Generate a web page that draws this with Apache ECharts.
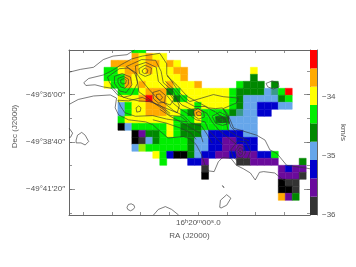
<!DOCTYPE html>
<html><head><meta charset="utf-8">
<style>html,body{margin:0;padding:0;background:#fff}#c{width:356px;height:267px}</style>
<script src="https://cdn.jsdelivr.net/npm/echarts@6/dist/echarts.min.js"></script>
</head><body><div id="c"></div>
<script>
// Map axes are in map-pixel units (one velocity cell = 1 unit); columns run east to west, rows north to south.
var raTicks=[-2.97,1.15,5.27,9.4,13.53,17.64,21.76,25.9];
var raLabelTicks=[13.53];
var decTicks=[3.5,6.88,10.26,13.64,17.02,20.4,23.78];
var decLabelTicks=[6.88,13.64,20.4];
var decLabels=['\u221249\u00b036\u203200\u2033','\u221249\u00b038\u203240\u2033','\u221249\u00b041\u203220\u2033'];
var velTicks=[-34,-35,-36];
var binEdges=[-36,-35.69,-35.38,-35.07,-34.76,-34.45,-34.14,-33.83,-33.52,-33.21];
var binColors=['#333333','#6a0a9c','#0000cc','#66a6ea','#008800','#00ee00','#ffff00','#ffaa00','#ff0000'];
// velocity (km/s) read for each colour letter in the map
var velocityOf={k:-36.2,d:-35.85,p:-35.5,b:-35.2,l:-34.9,t:-34.78,g:-34.6,G:-34.3,L:-34.16,y:-34,o:-33.7,r:-33.35};
var extraColors={k:'#000000',t:'#3a9a8a',L:'#99ee00'};
var velocityRows=[
'....GG',
'....oyoyy',
'.ooooyooyoy',
'GGyooyoyyyoo.........y',
'GGGoyyyyyyyo.........g',
'yGGoyoyyyoyyyo.....Gggg.g',
'..GGGyooogGyyyyyyyGggggltGr',
'..yyyorooygGyyyyyyGglllllgG',
'..lGyyoooyyyyGyyyyGgllbbbll',
'..lGyyoooyyGgoGGGGgtllbb',
'..GyyyyyyyGGGyGGggllll',
'..klGGGGGyGgggGGGGllll',
'....kpggGyGggglbbbbbll',
'....kdlgGGGGgllbbppbbb',
'....lLGGGGGGgllbbpppbb',
'.......yGbkkglbbppbpppbbG',
'........G...bbp....ddpppp...g',
'..............d..........pbpp',
'..............k..........pppd',
'.........................kdd',
'.........................kkd',
'.........................opg'
];
var contourLeftBody=[[-2.9,5.2],[-2.2,4.6],[-0.1,4.1],[1.3,3.4],[2.5,2.6],[4,1.8],[5.5,1.4],[8,1],[9,2.5],[9,4],[10.9,6.7],[12.3,7.9],[15.7,6.9],[17.1,7.2],[19.3,7.4],[19,8.1],[17.8,8.6],[17.1,8.9],[17.8,9.8],[18.6,11.7],[21.9,12.7],[23.1,13.4],[23.8,14.8],[24.8,15.3],[26.2,17],[29,17.4],[29.55,17.5]];
var contourLeftBodyLow=[[-2.9,5.2],[-2.6,5.6],[-1.3,5.5],[-0.1,5.8],[1.1,6],[2,7],[3.5,7.5],[5,7.8],[6.5,7.9],[8,8.4],[9.5,9.6]];
var contourTopLeft=[[-5,3.7],[-3.4,3.3],[-1.5,3],[-0.1,1.9],[1.3,1.4],[3.3,1.2],[4.4,0.5]];
var contourLowerLeft=[[-5,8.3],[-3.7,7.6],[-1.5,7.1],[0.9,6.95],[1.8,7.4],[1.6,8.8],[2.1,9.8],[3.5,10.5],[6,10.8],[7,11.2],[8,12.1],[9.2,13.1],[11.4,12.9],[12.3,13.2],[13.2,14],[14,15.5],[14.5,17],[15,17.8],[15.8,17.9],[16.4,16.5],[17,15.9],[18.2,16],[19,17],[20,17.5],[21,18.1],[21.7,19.1],[22.3,18],[22.9,17.9],[24.5,18.1],[25.7,19.1],[26.7,19.6]];
var blobLeft=[[-4,13.4],[-3.8,12.7],[-3.2,12.3],[-2.7,12.7],[-2.2,13.6],[-2.7,14.1],[-3.3,13.8],[-4,13.8],[-4,13.4]];
var arcLeftEdge=[[-5,11.7],[-4.5,12.4],[-4.8,13],[-5,13]];
var circleBottom=[[3.3,23],[3.5,22.6],[3.9,22.5],[4.3,22.7],[4.4,23],[4.2,23.3],[3.8,23.5],[3.4,23.3],[3.3,23]];
var arcBottom=[[7.1,24.1],[7.8,23.3],[8.8,22.9],[9.7,23.3],[10.7,24.1]];
var blobSouth=[[16.6,23],[16.7,22],[17.6,21.2],[18.2,21.7],[17.6,22.7],[16.8,23.1],[16.6,23]];
var dotSouth=[[17,19.9],[17.2,19.9],[17.2,20.2],[17,20.2],[17,19.9]];
var ringEast=[[23.25,5.3],[24.1,4.95],[25,5.2],[25.1,5.8],[24.3,6.1],[23.5,5.8],[23.25,5.3]];
var p1a=[[0.5,4.4],[2.2,3.2],[3.5,3.1],[4.6,3.8],[4.8,5.3],[3.9,7],[2.8,7.3],[1.7,6.3],[0.8,5.2],[0.5,4.4]];
var p1b=[[1.5,4.3],[2.6,3.9],[3.8,4.4],[4,5.5],[3.2,6.6],[2.3,6.4],[1.5,5.3],[1.5,4.3]];
var p1c=[[2,4.6],[2.8,4.3],[3.5,4.7],[3.5,5.4],[3,6],[2.4,5.8],[2,5.2],[2,4.6]];
var p1d=[[2.4,4.8],[2.9,4.6],[3.2,4.9],[3.1,5.3],[2.7,5.4],[2.4,5.2],[2.4,4.8]];
var p2a=[[3.2,2.9],[5.4,1.9],[7.4,2],[8.2,3.6],[8.5,5.2],[10,6.5],[10.8,8.5],[10.5,9.5],[9,8.9],[7.5,8.3],[6,7.2],[5,6.5],[4.8,5],[4.4,3.8],[3.2,2.9]];
var p2b=[[4.5,2.8],[6,2.3],[7.5,3],[7.8,5],[9,6.2],[10,7.6],[9.5,8.4],[8,7.8],[6.5,6.2],[5.5,5],[4.6,3.8],[4.5,2.8]];
var p2c=[[5,3.2],[5.9,2.7],[6.8,3.1],[6.7,4],[5.9,4.3],[5.1,3.9],[5,3.2]];
var p2d=[[5.5,3.4],[5.9,3.1],[6.3,3.4],[6.2,3.8],[5.8,3.9],[5.5,3.7],[5.5,3.4]];
var p3a=[[7,6.6],[8,6.3],[8.8,7],[8.7,8],[7.8,8.1],[7.1,7.5],[7,6.6]];
var p3b=[[7.5,6.9],[8,6.8],[8.4,7.3],[8.1,7.7],[7.6,7.4],[7.5,6.9]];
var p4=[[4.6,8.8],[5,8.5],[5.3,8.8],[5.2,9.3],[4.7,9.4],[4.6,8.8]];
var bodyRing=[[2,7.7],[3.5,7.8],[5.5,7.3],[7,8],[8.5,9],[9.5,9.9],[11,10],[12,10.8],[9,10.4],[7,9.9],[4.5,10],[3,9.5],[2.4,8.6],[2,7.7]];
var band1=[[9,4.2],[10.5,5.6],[12,7.2],[13.5,8],[15,8.8],[16,8.9],[17,8.8],[17.6,9.8],[18.2,11.5],[19,12.3]];
var band2=[[8.8,5],[10.3,6.4],[11.5,7.8],[13,8.6],[14.5,8.6],[16,9.4],[17.5,10.6],[17.8,12],[19,12.8],[20.8,13.5]];
var band3=[[8.8,6],[10,7.2],[11.2,8.4],[12.5,9],[13.5,8.9],[14.8,9.6],[15.5,10.8],[16.5,12],[18,13.2],[19,14]];
var band4=[[9,7],[10,8.2],[11,9],[12.3,9.8],[13.2,10.5],[14.5,10.8],[15,12],[16,13],[17,14]];
var band5=[[8.5,8],[10,9.2],[11.5,10],[12.5,11],[14,11.4],[14.8,12.6],[15.5,13.8]];
var band6=[[8,9],[9.5,10],[11,10.8],[12.5,11.7],[13.8,12.4],[14.2,13.7]];
var band7=[[7,10.5],[9,11],[11,11.7],[12.5,12.4],[13.2,13.3]];
var p5a=[[12.8,9.3],[13.5,8.9],[14.3,9.4],[14.4,10.1],[13.6,10.4],[13,10],[12.8,9.3]];
var p5b=[[13.2,9.5],[13.6,9.3],[14,9.6],[13.9,9.9],[13.4,9.9],[13.2,9.5]];
var p6a=[[15.5,10],[16.6,9.4],[17.8,10],[18,11],[17,11.3],[16,11],[15.5,10]];
var p6b=[[16,10.2],[16.7,9.9],[17.4,10.3],[17.4,10.8],[16.6,10.9],[16,10.2]];
var p6c=[[16.4,10.4],[16.9,10.2],[17.1,10.5],[16.7,10.7],[16.4,10.4]];
var p7a=[[18.2,14.8],[19.2,13.5],[20.4,13.7],[21,15],[20.5,16.2],[19.3,16.5],[18.5,15.8],[18.2,14.8]];
var p7b=[[18.8,15],[19.4,14.1],[20.1,14.4],[20.3,15.2],[19.8,16],[19.1,15.8],[18.8,15]];
var p7c=[[19.2,15],[19.5,14.5],[19.9,14.8],[19.9,15.4],[19.5,15.6],[19.2,15]];
var p7d=[[19.4,15],[19.6,14.8],[19.7,15.1],[19.5,15.3],[19.4,15]];
var contours=[contourLeftBody,contourLeftBodyLow,contourTopLeft,contourLowerLeft,blobLeft,arcLeftEdge,circleBottom,arcBottom,blobSouth,dotSouth,ringEast,p1a,p1b,p1c,p1d,p2a,p2b,p2c,p2d,p3a,p3b,p4,bodyRing,band1,band2,band3,band4,band5,band6,band7,p5a,p5b,p6a,p6b,p6c,p7a,p7b,p7c,p7d];

var cells=[];
velocityRows.forEach(function(row,r){
  row.split('').forEach(function(ch,c){ if(velocityOf[ch]!==undefined) cells.push([c,r,velocityOf[ch],ch]); });
});
var grey='#666', txt='#555', font='"Liberation Sans",Arial,sans-serif';
function colorFor(v,ch){
  if(extraColors[ch]) return extraColors[ch];
  for(var i=0;i<binColors.length;i++){ if(v<binEdges[i+1]) return binColors[i]; }
  return binColors[binColors.length-1];
}
var xRange={min:-5.02,max:29.55}, yRange={min:0.53,max:24.1,inverse:true};
function xax(pos,len,extra){return Object.assign({type:'value',gridIndex:0,position:pos},xRange,{axisLine:{show:true,onZero:false,lineStyle:{color:grey}},axisTick:{show:true,inside:true,length:len,customValues:raTicks,lineStyle:{color:grey,width:.7}},axisLabel:{show:false},splitLine:{show:false}},extra||{});}
function yax(pos,vals,len,extra){return Object.assign({type:'value',gridIndex:0,position:pos},yRange,{axisLine:{show:true,onZero:false,lineStyle:{color:grey}},axisTick:{show:true,inside:true,length:len,customValues:vals,lineStyle:{color:grey,width:.7}},axisLabel:{show:false},splitLine:{show:false}},extra||{});}
var series=[{
  type:'custom',xAxisIndex:0,yAxisIndex:0,clip:true,silent:true,z:2,
  data:cells,encode:{x:0,y:1},
  renderItem:function(params,api){
    var c=api.value(0),r=api.value(1),p0=api.coord([c,r]),p1=api.coord([c+1,r+1]);
    var fill=colorFor(api.value(2),cells[params.dataIndex][3]);
    return {type:'rect',shape:{x:p0[0],y:p0[1],width:p1[0]-p0[0],height:p1[1]-p0[1]},style:{fill:fill,stroke:fill,lineWidth:.5}};
  }
},{
  type:'custom',xAxisIndex:2,yAxisIndex:4,clip:true,silent:true,z:2,
  data:binColors.map(function(col,i){return [binEdges[i],binEdges[i+1],i];}),
  encode:{y:[0,1]},
  renderItem:function(params,api){
    var a=api.coord([0,api.value(0)]),b=api.coord([1,api.value(1)]);
    return {type:'rect',shape:{x:a[0],y:b[1],width:b[0]-a[0],height:a[1]-b[1]},style:{fill:binColors[api.value(2)]}};
  }
}];
contours.forEach(function(pts){
  series.push({type:'line',xAxisIndex:0,yAxisIndex:0,data:pts,showSymbol:false,symbol:'none',clip:true,silent:true,z:5,
    lineStyle:{color:'#333',width:.8,opacity:.8}});
});
var chart=echarts.init(document.getElementById('c'),null,{renderer:'canvas'});
chart.setOption({
  animation:false,backgroundColor:'#fff',
  grid:[{left:69,top:50,width:241,height:165},{left:310,top:50,width:7,height:165}],
  xAxis:[
    xax('bottom',3,{name:'RA (J2000)',nameLocation:'middle',nameGap:15,nameTextStyle:{color:txt,fontSize:8,fontFamily:font},
      axisLabel:{show:true,customValues:raLabelTicks,margin:3,color:txt,fontSize:8,fontFamily:font,
        formatter:function(){return '16{s|h}20{s|m}00{s|s}.0';},
        rich:{s:{fontSize:6,color:txt,fontFamily:font,verticalAlign:'top',padding:[0,0,3,0]}}}}),
    xax('top',3),
    {type:'value',gridIndex:1,min:0,max:1,show:false}
  ],
  yAxis:[
    yax('left',decTicks,3,{name:'Dec (J2000)',nameLocation:'middle',nameGap:50,nameRotate:90,nameTextStyle:{color:txt,fontSize:8,fontFamily:font,padding:[0,0,0,12]}}),
    yax('right',decTicks,3),
    yax('left',decLabelTicks,6,{axisLine:{show:false,onZero:false},axisLabel:{show:true,customValues:decLabelTicks,margin:4,color:txt,fontSize:8,fontFamily:font,
      formatter:function(v){return decLabels[decLabelTicks.indexOf(v)];}}}),
    yax('right',decLabelTicks,6,{axisLine:{show:false,onZero:false}}),
    {type:'value',gridIndex:1,position:'right',min:-36,max:-33.21,
     axisLine:{show:true,onZero:false,lineStyle:{color:grey}},axisTick:{show:false},splitLine:{show:false},
     axisLabel:{show:true,customValues:velTicks,margin:5,color:txt,fontSize:8,fontFamily:font,
       formatter:function(v){return '\u2212'+Math.abs(v);}},
     name:'km/s',nameLocation:'middle',nameGap:21,nameRotate:-90,nameTextStyle:{color:txt,fontSize:8,fontFamily:font}}
  ],
  series:series
});
</script></body></html>
